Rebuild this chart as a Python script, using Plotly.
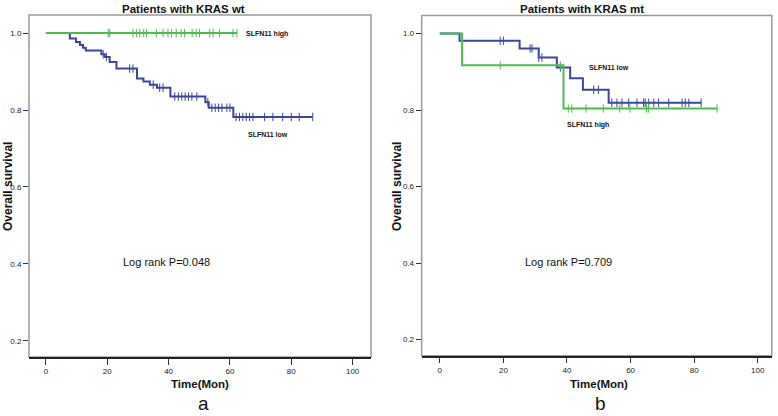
import plotly.graph_objects as go

# ---------------- data ----------------
# Panel a: KRAS wt
wt_low_time = [0, 7.8, 9.8, 11.1, 12.1, 13.0, 18.1, 19.2, 20.8, 23.0, 29.7, 31.8, 33.9, 36.2, 40.6, 52.0, 53.1, 61.1, 87.0]
wt_low_surv = [1.0, 0.986, 0.977, 0.969, 0.962, 0.955, 0.945, 0.938, 0.925, 0.908, 0.882, 0.874, 0.866, 0.858, 0.835, 0.820, 0.806, 0.782, 0.782]
wt_low_cens = [18.7, 19.8, 27.3, 28.4, 35.0, 37.1, 38.2, 42.0, 43.2, 44.3, 45.4, 46.5, 47.6, 49.2, 52.8, 54.1, 55.2, 56.3, 57.4, 59.0, 60.0,
               62.0, 63.1, 64.2, 65.3, 66.4, 67.5, 71.3, 74.0, 77.2, 80.0, 82.6, 87.0]
wt_high_time = [0, 62.3]
wt_high_surv = [1.0, 1.0]
wt_high_cens = [20.3, 20.8, 28.4, 29.5, 30.6, 31.9, 32.8, 36.0, 38.2, 39.8, 40.9, 42.5, 44.1, 45.2, 47.7, 49.0, 50.1, 53.4, 54.5, 56.6, 61.0, 62.3]

# Panel b: KRAS mt
mt_low_time = [0, 6.2, 25.1, 31.1, 36.8, 41.0, 45.0, 53.1, 82.2]
mt_low_surv = [1.0, 0.981, 0.961, 0.937, 0.911, 0.883, 0.853, 0.819, 0.819]
mt_low_cens = [19.0, 20.0, 28.4, 29.0, 31.1, 32.1, 37.9, 48.4, 49.9, 54.1, 55.7, 57.3, 59.4, 62.0, 64.1, 64.6, 65.7, 67.3, 68.8,
               72.0, 76.2, 77.2, 78.3, 82.2]
mt_high_time = [0, 7.0, 38.9, 87.2]
mt_high_surv = [1.0, 0.917, 0.804, 0.804]
mt_high_cens = [19.0, 37.9, 40.4, 41.5, 46.0, 51.4, 56.6, 59.8, 65.0, 65.6, 87.2]

x_ticks = [0, 20, 40, 60, 80, 100]
y_ticks = [0.2, 0.4, 0.6, 0.8, 1.0]
y_tick_text = ["0.2", "0.4", "0.6", "0.8", "1.0"]

BLUE = "#3a4796"
GREEN = "#4dbb4d"
ARIAL = "Liberation Sans, Arial, sans-serif"


def surv_at(times, survs, t):
    val = survs[0]
    for ti, si in zip(times, survs):
        if ti <= t:
            val = si
    return val


fig = go.Figure()


def add_group(times, survs, cens, color, xa, ya):
    fig.add_trace(go.Scatter(x=times, y=survs, mode="lines", line=dict(color=color, width=2, shape="hv"),
                             xaxis=xa, yaxis=ya, showlegend=False, hoverinfo="skip"))
    fig.add_trace(go.Scatter(x=cens, y=[surv_at(times, survs, c) for c in cens], mode="markers",
                             marker=dict(symbol="line-ns-open", size=6, color=color, line=dict(color=color, width=1)),
                             xaxis=xa, yaxis=ya, showlegend=False, hoverinfo="skip"))


add_group(wt_low_time, wt_low_surv, wt_low_cens, BLUE, "x", "y")
add_group(wt_high_time, wt_high_surv, wt_high_cens, GREEN, "x", "y")
add_group(mt_low_time, mt_low_surv, mt_low_cens, BLUE, "x2", "y2")
add_group(mt_high_time, mt_high_surv, mt_high_cens, GREEN, "x2", "y2")

xaxis_common = dict(range=[-5.5, 106], tickvals=x_ticks, ticks="outside", ticklen=6, tickcolor="#333",
                    showline=True, linecolor="#222", linewidth=1.5, showgrid=False, zeroline=False,
                    tickfont=dict(family=ARIAL, size=8, color="#222"))
yaxis_common = dict(range=[0.158, 1.047], tickvals=y_ticks, ticktext=y_tick_text, ticks="outside", ticklen=5,
                    tickcolor="#333", showline=False, showgrid=False, zeroline=False,
                    tickfont=dict(family=ARIAL, size=8, color="#222"))

fig.update_layout(
    width=778, height=416, margin=dict(l=0, r=0, t=0, b=0),
    paper_bgcolor="white", plot_bgcolor="white",
    xaxis=dict(domain=[0.0373, 0.4769], anchor="y", **xaxis_common),
    yaxis=dict(domain=[0.1418, 0.9639], anchor="x", **yaxis_common),
    xaxis2=dict(domain=[0.542, 0.992], anchor="y2", **{**xaxis_common, "range": [-5.7, 104.4]}),
    yaxis2=dict(domain=[0.145, 0.9627], anchor="x2", **{**yaxis_common, "range": [0.158, 1.047]}),
)

# frames (gray box)
for xr, yr in [("x domain", "y domain"), ("x2 domain", "y2 domain")]:
    fig.add_shape(type="rect", xref=xr, yref=yr, x0=0, x1=1, y0=0, y1=1,
                  line=dict(color="#9a9a9a", width=1.5), fillcolor="rgba(0,0,0,0)", layer="below")

ann = []


def txt(text, x, y, size, xanchor="center", bold=False, yanchor="middle"):
    ann.append(dict(text=("<b>%s</b>" % text) if bold else text, x=x / 778, y=1 - y / 416, xref="paper", yref="paper",
                    showarrow=False, xanchor=xanchor, yanchor=yanchor,
                    font=dict(size=size, family=ARIAL, color="#111")))


# titles
txt("Patients with KRAS wt", 183, 9, 11.5, bold=True)
txt("Patients with KRAS mt", 582, 9, 11.5, bold=True)
# x titles
txt("Time(Mon)", 200, 383.5, 11.5, bold=True)
txt("Time(Mon)", 599, 383.5, 11.5, bold=True)
# panel letters
txt("a", 203, 416, 19, yanchor="bottom")
txt("b", 600, 416, 19, yanchor="bottom")
# group labels
txt("SLFN11 high", 244, 34, 7, xanchor="left", bold=True)
txt("SLFN11 low", 245.5, 134, 7, xanchor="left", bold=True)
txt("SLFN11 low", 587, 67, 7, xanchor="left", bold=True)
txt("SLFN11 high", 565, 125, 7, xanchor="left", bold=True)
# log rank
txt("Log rank P=0.048", 166, 262, 11)
txt("Log rank P=0.709", 568, 262, 11)

# y axis titles (rotated)
for xpos in [8, 397]:
    ann.append(dict(text="<b>Overall survival</b>", x=xpos / 778, y=1 - 187 / 416, xref="paper", yref="paper",
                    showarrow=False, textangle=-90, xanchor="center", yanchor="middle",
                    font=dict(size=12, family=ARIAL, color="#111")))

fig.update_layout(annotations=ann)

fig.write_html("out.html", config={"displayModeBar": False},
               post_script="document.body.style.margin='0';document.body.style.padding='0';")
